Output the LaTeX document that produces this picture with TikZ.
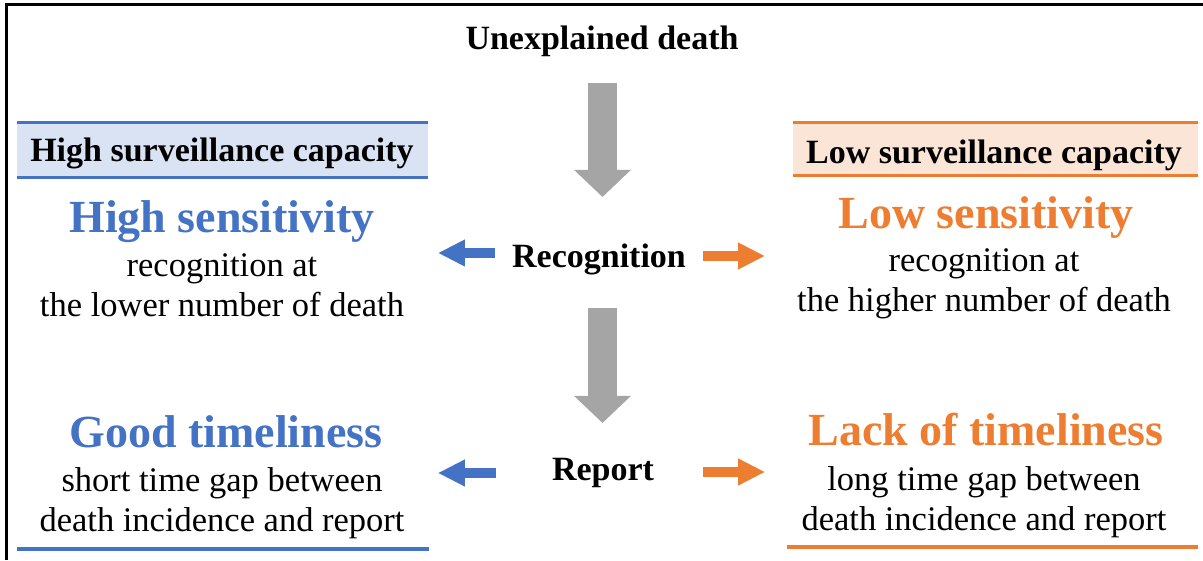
\documentclass[tikz,border=0pt]{standalone}
\usepackage{fontspec}
\setmainfont{Liberation Serif}
\usetikzlibrary{arrows.meta}
\definecolor{survblue}{HTML}{4472C4}
\definecolor{survorange}{HTML}{ED7D31}
\definecolor{lightblue}{HTML}{DAE3F3}
\definecolor{lightorange}{HTML}{FBE5D6}
\definecolor{arrowgray}{HTML}{A5A5A5}
\tikzset{
every picture/.style={x=1pt, y=1pt},
%%%%%%%%%%  Node styles
step_label/.style={font=\bfseries\fontsize{34}{38}\selectfont, inner sep=0pt},
capacity/.style={font=\bfseries\fontsize{34}{38}\selectfont, inner sep=0pt},
headline/.style={font=\bfseries\fontsize{46}{50}\selectfont, inner sep=0pt},
remark/.style={font=\fontsize{34.5}{40}\selectfont, align=center, inner sep=0pt},
%%%% different line styles:
rule/.style={line width=3pt},
frame/.style={line width=3pt, draw=black},
%%%%%%% Block arrows
down_arrow/.style={draw=arrowgray, line width=29pt,
                   -{Triangle[length=27pt,width=55pt]}},
side_arrow/.style={line width=10pt, -{Triangle[length=27pt,width=25pt]}}
}

\begin{document}
\begin{tikzpicture}
\useasboundingbox (0,0) rectangle (1203,560);
\draw[frame] (6,0) -- (6,555) -- (1203,555);
% capacity headers
\fill[lightblue] (17,382) rectangle (428,437);
\draw[rule, survblue] (17,437) -- (428,437) (17,382) -- (428,382);
\node[capacity] (highcap) at (222,407) {High surveillance capacity};
\fill[lightorange] (793,384) rectangle (1198,437);
\draw[rule, survorange] (793,437) -- (1198,437) (793,384) -- (1198,384);
\node[capacity] (lowcap) at (994,405) {Low surveillance capacity};
% middle column
\node[step_label] (unexp) at (602,519) {Unexplained death};
\node[step_label] (recog) at (599,301) {Recognition};
\node[step_label] (report) at (603,87) {Report};
\draw[down_arrow] (unexp.center) ++(0.5,-42) -- +(0,-114);
\draw[down_arrow] (recog.center) ++(3.5,-49) -- +(0,-115);
\draw[side_arrow, survblue] (recog.west) ++(-17,6) -- +(-57,0);
\draw[side_arrow, survorange] (recog.east) ++(17,3) -- +(62,0);
\draw[side_arrow, survblue] (report.west) ++(-56,0) -- +(-58,0);
\draw[side_arrow, survorange] (report.east) ++(49,1) -- +(62,0);
% high capacity side
\node[headline, text=survblue] (highsens) at (222,338) {High sensitivity};
\node[remark] (highrec) at (222,275) {recognition at\\the lower number of death};
\node[headline, text=survblue] (good) at (226,128) {Good timeliness};
\node[remark] (shortgap) at (222,57) {short time gap between\\death incidence and report};
\draw[rule, survblue] (17,11) -- (429,11);
% low capacity side
\node[headline, text=survorange] (lowsens) at (986,342) {Low sensitivity};
\node[remark] (lowrec) at (984,276) {recognition at\\the higher number of death};
\node[headline, text=survorange] (lack) at (986,130) {Lack of timeliness};
\node[remark] (longgap) at (984,58) {long time gap between\\death incidence and report};
\draw[rule, survorange] (787,13) -- (1198,13);
\end{tikzpicture}
\end{document}
